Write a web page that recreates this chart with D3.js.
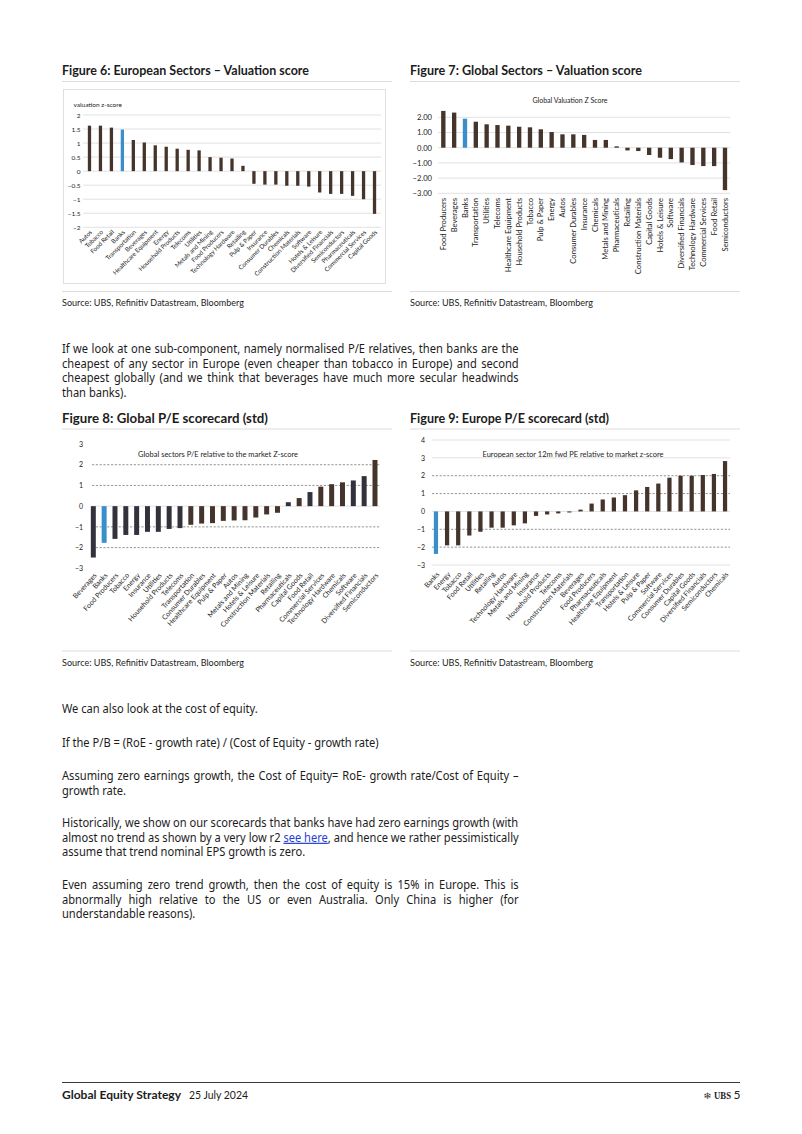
<!DOCTYPE html>
<html><head><meta charset="utf-8">
<script src="https://cdn.jsdelivr.net/npm/d3@7"></script>
<style>
body{margin:0;background:#fff;}
svg{display:block;font-family:Lato,"Noto Sans",sans-serif;}
</style></head><body>
<svg id="page" width="802" height="1134"></svg>
<script>
// ---------- DATA ----------
const fig6Categories = ["Autos","Tobacco","Food Retail","Banks","Transportation","Beverages","Healthcare Equipment","Energy","Household Products","Telecoms","Utilities","Metals and Mining","Food Producers","Technology Hardware","Retailing","Pulp & Paper","Insurance","Consumer Durables","Chemicals","Construction Materials","Software","Hotels & Leisure","Diversified Financials","Semiconductors","Pharmaceuticals","Commercial Services","Capital Goods"];
const fig6Values = [1.62,1.62,1.55,1.48,1.11,1.02,0.92,0.87,0.80,0.76,0.74,0.50,0.48,0.45,0.19,-0.45,-0.48,-0.48,-0.52,-0.52,-0.55,-0.76,-0.81,-0.81,-0.88,-1.00,-1.52];
const fig6Ticks = [2,1.5,1,0.5,0,-0.5,-1,-1.5,-2];

const fig7Categories = ["Food Producers","Beverages","Banks","Transportation","Utilities","Telecoms","Healthcare Equipment","Household Products","Tobacco","Pulp & Paper","Energy","Autos","Consumer Durables","Insurance","Chemicals","Metals and Mining","Pharmaceuticals","Retailing","Construction Materials","Capital Goods","Hotels & Leisure","Software","Diversified Financials","Technology Hardware","Commercial Services","Food Retail","Semiconductors"];
const fig7Values = [2.42,2.31,1.91,1.71,1.54,1.49,1.45,1.38,1.34,1.21,1.03,0.88,0.88,0.84,0.51,0.51,0.09,-0.18,-0.22,-0.48,-0.66,-0.75,-0.97,-1.14,-1.21,-1.21,-2.79];
const fig7Ticks = [2,1,0,-1,-2,-3];

const fig8Categories = ["Beverages","Banks","Food Producers","Tobacco","Energy","Insurance","Utilities","Household Products","Telecoms","Transportation","Consumer Durables","Healthcare Equipment","Pulp & Paper","Autos","Metals and Mining","Hotels & Leisure","Construction Materials","Retailing","Pharmaceuticals","Capital Goods","Food Retail","Commercial Services","Technology Hardware","Chemicals","Software","Diversified Financials","Semiconductors"];
const fig8Values = [-2.48,-1.77,-1.58,-1.39,-1.39,-1.24,-1.24,-1.10,-1.06,-0.90,-0.84,-0.82,-0.71,-0.69,-0.68,-0.55,-0.40,-0.32,0.19,0.39,0.68,0.94,1.06,1.15,1.24,1.45,2.23];
const fig8DarkCategories = ["Beverages","Food Producers","Tobacco","Energy","Insurance","Utilities","Household Products","Telecoms","Pharmaceuticals","Food Retail","Software","Diversified Financials"];
const fig8Ticks = [3,2,1,0,-1,-2,-3];

const fig9Categories = ["Banks","Energy","Tobacco","Food Retail","Utilities","Retailing","Autos","Technology Hardware","Metals and Mining","Insurance","Household Products","Telecoms","Construction Materials","Beverages","Food Producers","Pharmaceuticals","Healthcare Equipment","Transportation","Hotels & Leisure","Pulp & Paper","Software","Commercial Services","Consumer Durables","Capital Goods","Diversified Financials","Semiconductors","Chemicals"];
const fig9Values = [-2.38,-1.90,-1.90,-1.35,-1.14,-0.91,-0.91,-0.78,-0.67,-0.25,-0.17,-0.11,-0.06,0.10,0.44,0.67,0.78,0.91,1.18,1.37,1.56,1.89,2.00,2.00,2.04,2.10,2.82];
const fig9Ticks = [4,3,2,1,0,-1,-2,-3];

const highlightCategory = "Banks";

// ---------- STYLE ----------
const BROWN = "#45342b", BLUE = "#3a8fcb", DARK = "#33313c";
const TEXT = "#1c1c1c", GRID = "#d9d9d9", DASH = "#7a7a7a", RULE = "#dcdcdc";
const CHART_FONT = "Lato, 'Noto Sans', sans-serif";
const BODY_FONT = "'Noto Sans', 'Open Sans', sans-serif";

const svg = d3.select("#page");

function barChart(o) {
  const g = svg.append("g");
  const x = d3.scaleBand().domain(o.categories).range(o.xRange)
    .paddingInner(o.pad).paddingOuter(o.pad / 2);
  const y = d3.scaleLinear().domain(o.yDomain).range(o.yRange);
  (o.solid || []).forEach(v => g.append("line")
    .attr("x1", o.gridX[0]).attr("x2", o.gridX[1]).attr("y1", y(v)).attr("y2", y(v))
    .attr("stroke", GRID).attr("stroke-width", 0.8));
  (o.dashed || []).forEach(v => g.append("line")
    .attr("x1", o.gridX[0]).attr("x2", o.gridX[1]).attr("y1", y(v)).attr("y2", y(v))
    .attr("stroke", DASH).attr("stroke-width", 0.8).attr("stroke-dasharray", "2.2,1.6"));
  const ya = g.append("g").attr("transform", `translate(${o.yLabelX},0)`)
    .call(d3.axisLeft(y).tickValues(o.ticks).tickSize(0).tickPadding(0).tickFormat(o.fmt));
  ya.select(".domain").remove();
  ya.selectAll("text").attr("fill", TEXT).style("font-size", o.yFont + "px")
    .style("font-family", CHART_FONT);
  g.selectAll("rect.bar").data(o.values).join("rect")
    .attr("x", (d, i) => x(o.categories[i]))
    .attr("width", x.bandwidth())
    .attr("y", d => Math.min(y(0), y(d)))
    .attr("height", d => Math.abs(y(d) - y(0)))
    .attr("fill", (d, i) => o.color(o.categories[i]));
  const xa = g.append("g").attr("transform", `translate(${o.labelDx || 0},${o.labelY})`)
    .call(d3.axisBottom(x).tickSize(0).tickPadding(0));
  xa.select(".domain").remove();
  xa.selectAll("text").attr("y", 0).attr("x", 0).attr("dy", "0.35em")
    .attr("text-anchor", "end").attr("transform", `rotate(${o.rot})`)
    .attr("fill", TEXT).style("font-size", o.xFont + "px")
    .style("font-family", CHART_FONT);
  return {g, x, y};
}

function txt(s, x, y, size, opts = {}) {
  const t = svg.append("text").attr("x", x).attr("y", y).attr("fill", opts.fill || TEXT)
    .style("font-size", size + "px").text(s);
  if (opts.bold) t.style("font-weight", "bold");
  if (opts.anchor) t.attr("text-anchor", opts.anchor);
  if (opts.width) t.attr("textLength", opts.width).attr("lengthAdjust", "spacingAndGlyphs");
  if (opts.family) t.style("font-family", opts.family);
  return t;
}
function hline(x1, x2, y, color, w) {
  svg.append("line").attr("x1", x1).attr("x2", x2).attr("y1", y).attr("y2", y)
    .attr("stroke", color).attr("stroke-width", w || 1);
}

// ---------- FIGURE HEADERS ----------
txt("Figure 6: European Sectors – Valuation score", 62, 74.5, 12.5, {bold: true, width: 247});
txt("Figure 7: Global Sectors – Valuation score", 410, 74.5, 12.5, {bold: true, width: 232});
hline(62, 392, 81.5, RULE); hline(410, 740, 81.5, RULE);
hline(62, 392, 291.5, RULE); hline(410, 740, 291.5, RULE);
txt("Source: UBS, Refinitiv Datastream, Bloomberg", 62, 305.5, 9, {width: 182});
txt("Source: UBS, Refinitiv Datastream, Bloomberg", 410, 305.5, 9, {width: 183});

txt("Figure 8: Global P/E scorecard (std)", 62, 422.5, 12.5, {bold: true, width: 206});
txt("Figure 9: Europe P/E scorecard (std)", 410, 422.5, 12.5, {bold: true, width: 199});
hline(62, 392, 429, RULE); hline(410, 740, 429, RULE);
hline(62, 392, 651, RULE); hline(410, 740, 651, RULE);
txt("Source: UBS, Refinitiv Datastream, Bloomberg", 62, 665.5, 9, {width: 182});
txt("Source: UBS, Refinitiv Datastream, Bloomberg", 410, 665.5, 9, {width: 183});

// ---------- FIGURE 6 ----------
svg.append("rect").attr("x", 63.5).attr("y", 89.5).attr("width", 322).attr("height", 194)
  .attr("fill", "none").attr("stroke", "#e0e0e0").attr("stroke-width", 1);
txt("valuation z-score", 73.5, 107, 6.5);
barChart({
  categories: fig6Categories, values: fig6Values, ticks: fig6Ticks,
  xRange: [84, 380], pad: 0.7, yDomain: [-2, 2], yRange: [227.3, 115],
  gridX: [83, 381], solid: fig6Ticks, yLabelX: 80.5, yFont: 6.5, fmt: d3.format(""),
  labelY: 231, labelDx: 1.5, rot: -45, xFont: 6.2,
  color: c => c === highlightCategory ? BLUE : BROWN
});

// ---------- FIGURE 7 ----------
txt("Global Valuation Z Score", 570, 103, 7, {anchor: "middle"});
barChart({
  categories: fig7Categories, values: fig7Values, ticks: fig7Ticks,
  xRange: [437.9, 730.4], pad: 0.6, yDomain: [-3, 2], yRange: [193.3, 117.3],
  gridX: [438, 730], solid: fig7Ticks, yLabelX: 432, yFont: 7.6, fmt: d3.format(".2f"),
  labelY: 198, labelDx: 0, rot: -90, xFont: 7.6,
  color: c => c === highlightCategory ? BLUE : BROWN
});

// ---------- FIGURE 8 ----------
txt("Global sectors P/E relative to the market Z-score", 218, 457, 7.5, {anchor: "middle"});
barChart({
  categories: fig8Categories, values: fig8Values, ticks: fig8Ticks,
  xRange: [87.9, 380.4], pad: 0.54, yDomain: [-3, 3], yRange: [568.3, 444],
  gridX: [92, 380], solid: [0], dashed: [2, 1, -1, -2], yLabelX: 83, yFont: 7, fmt: d3.format(""),
  labelY: 574, labelDx: 2, rot: -48, xFont: 7,
  color: c => c === highlightCategory ? BLUE : (fig8DarkCategories.includes(c) ? DARK : BROWN)
});

// ---------- FIGURE 9 ----------
txt("European sector 12m fwd PE relative to market z-score", 573, 457, 7.5, {anchor: "middle"});
barChart({
  categories: fig9Categories, values: fig9Values, ticks: fig9Ticks,
  xRange: [430.4, 730.6], pad: 0.62, yDomain: [-3, 4], yRange: [565, 440],
  gridX: [432, 730], solid: [4, 3, 0, -3], dashed: [2, 1, -1, -2], yLabelX: 425, yFont: 7, fmt: d3.format(""),
  labelY: 573, labelDx: 2, rot: -48, xFont: 7,
  color: c => c === highlightCategory ? BLUE : BROWN
});

// ---------- BODY TEXT (column 62 -> 519) ----------
const COL = 457;
const BODY_SIZE = 12;
const bodyLines = [
  ["If we look at one sub-component, namely normalised P/E relatives, then banks are the", 353, true],
  ["cheapest of any sector in Europe (even cheaper than tobacco in Europe) and second", 367.7, true],
  ["cheapest globally (and we think that beverages have much more secular headwinds", 382.4, true],
  ["than banks).", 397, false],
  ["We can also look at the cost of equity.", 713, false],
  ["If the P/B = (RoE - growth rate) / (Cost of Equity - growth rate)", 746.5, false],
  ["Assuming zero earnings growth, the Cost of Equity= RoE- growth rate/Cost of Equity –", 780, true],
  ["growth rate.", 794.7, false],
  ["Historically, we show on our scorecards that banks have had zero earnings growth (with", 827, true],
  ["almost no trend as shown by a very low r2 |see here|, and hence we rather pessimistically", 841.7, true],
  ["assume that trend nominal EPS growth is zero.", 856.4, false],
  ["Even assuming zero trend growth, then the cost of equity is 15% in Europe. This is", 889, true],
  ["abnormally high relative to the US or even Australia. Only China is higher (for", 903.7, true],
  ["understandable reasons).", 918.4, false]
];
function measure(s) {
  const t = svg.append("text").style("font-family", BODY_FONT).style("font-size", BODY_SIZE + "px").text(s);
  const w = t.node().getComputedTextLength(); t.remove(); return w;
}
const refScale = 196 / measure("We can also look at the cost of equity.");
bodyLines.forEach(([s, y, justify]) => {
  const plain = s.replace(/\|/g, "");
  const nat = measure(plain);
  let sx = refScale, ws = 0;
  if (justify) {
    sx = Math.min(refScale, COL / nat);
    const spaces = (plain.match(/ /g) || []).length;
    ws = Math.max(0, (COL / sx - nat) / spaces);
  }
  const t = svg.append("text").attr("transform", `translate(62,${y}) scale(${sx},1)`)
    .attr("fill", TEXT).style("font-family", BODY_FONT).style("font-size", BODY_SIZE + "px")
    .style("word-spacing", ws + "px");
  s.split("|").forEach((part, i) => {
    const ts = t.append("tspan").text(part);
    if (i === 1) ts.attr("fill", "#1f3fd6").style("text-decoration", "underline");
  });
});

// ---------- FOOTER ----------
hline(62, 740, 1082.5, "#3a3a3a", 1);
txt("Global Equity Strategy", 62, 1099, 12, {bold: true, width: 119});
txt("25 July 2024", 189, 1099, 12, {width: 59});
txt("❄", 703, 1099, 9, {family: "DejaVu Sans", fill: "#333", width: 9});
txt("UBS", 714, 1099, 10.5, {family: "Liberation Serif", bold: true, fill: "#222", width: 17});
txt("5", 740.5, 1099, 12, {anchor: "end"});
</script>
</body></html>
